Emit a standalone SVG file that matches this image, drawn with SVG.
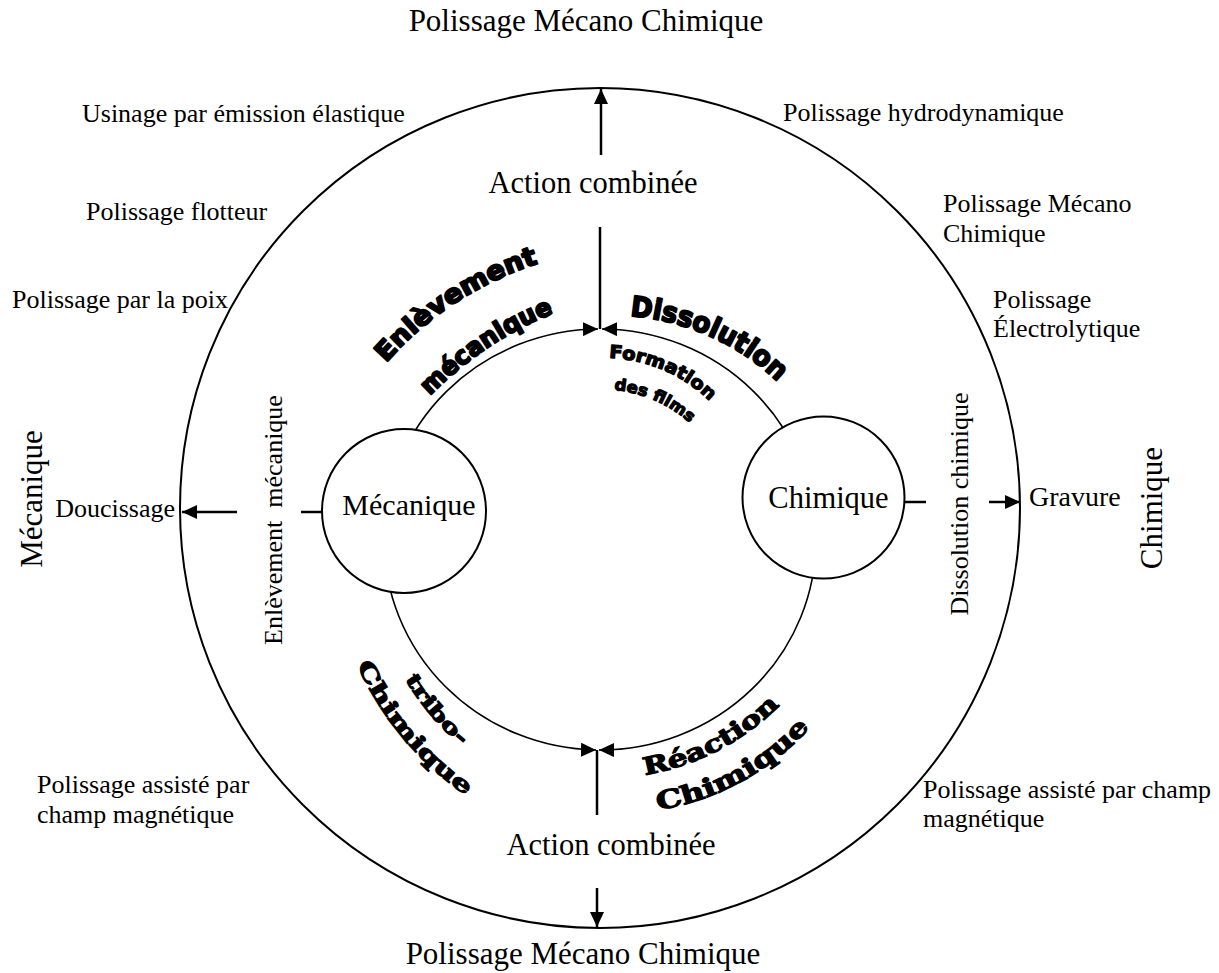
<svg xmlns="http://www.w3.org/2000/svg" width="1219" height="973" viewBox="0 0 1219 973">
<style>
.t{font-family:"Liberation Serif","Times New Roman",serif;fill:#000}
.s{font-size:26px}
.b{font-size:31px}
.hs{font-family:"DejaVu Sans","Liberation Sans",sans-serif;font-weight:bold;fill:#000;stroke:#000;stroke-width:2;stroke-linejoin:round}
.hr{font-family:"DejaVu Serif","Liberation Serif",serif;font-weight:bold;fill:#000;stroke:#000;stroke-width:1.2;stroke-linejoin:round}
.ln{stroke:#000;stroke-width:2.5;fill:none}
.arc{stroke:#000;stroke-width:1.6;fill:none}
.node{stroke:#000;stroke-width:2;fill:#fff}
</style>
<defs>
<marker id="ah" markerUnits="userSpaceOnUse" markerWidth="16" markerHeight="14" refX="15" refY="7" orient="auto" viewBox="0 0 16 14">
<path d="M0,0 L15,7 L0,14 Z" fill="#000"/>
</marker>
<path id="pEnl" d="M386,363 A340,340 0 0 1 543,262"/>
<path id="pMec" d="M430,396 A350,350 0 0 1 562,310"/>
<path id="pDis" d="M630,316 A240,240 0 0 1 780,384"/>
<path id="pFor" d="M609,358 A150,150 0 0 1 716,408"/>
<path id="pDes" d="M614,390 A130,130 0 0 1 697,430"/>
<path id="pTri" d="M405,679 A250,250 0 0 0 468,751"/>
<path id="pChL" d="M357,665 A320,320 0 0 0 471,799"/>
<path id="pRea" d="M645,775 A250,250 0 0 0 783,702"/>
<path id="pChR" d="M658,810 A260,260 0 0 0 815,722"/>
</defs>
<rect width="1219" height="973" fill="#fff"/>

<g id="outer-circle">
<circle cx="600" cy="508" r="420" fill="none" stroke="#000" stroke-width="2"/>
</g>

<g id="connectors">
<path class="arc" d="M384,539.5 A216,210.5 0 0 1 598,329" marker-end="url(#ah)"/>
<path class="arc" d="M816,539.5 A216,210.5 0 0 0 602,329" marker-end="url(#ah)"/>
<path class="arc" d="M384,539.5 A216,210.5 0 0 0 596,750" marker-end="url(#ah)"/>
<path class="arc" d="M816,539.5 A216,210.5 0 0 1 599,750" marker-end="url(#ah)"/>
<line class="ln" x1="600" y1="227" x2="600" y2="329"/>
<line class="ln" x1="601" y1="155" x2="601" y2="89" marker-end="url(#ah)"/>
<line class="ln" x1="597" y1="750" x2="597" y2="815"/>
<line class="ln" x1="597" y1="888" x2="597" y2="927" marker-end="url(#ah)"/>
<line class="ln" x1="301" y1="512" x2="322" y2="512"/>
<line class="ln" x1="237" y1="512" x2="182" y2="512" marker-end="url(#ah)"/>
<line class="ln" x1="905" y1="502" x2="926" y2="502"/>
<line class="ln" x1="989" y1="502" x2="1020" y2="502" marker-end="url(#ah)"/>
</g>

<g id="node-mecanique">
<circle class="node" cx="404" cy="511" r="82"/>
<text class="t" x="409" y="515" font-size="30" text-anchor="middle">Mécanique</text>
</g>
<g id="node-chimique">
<circle class="node" cx="823.5" cy="497.5" r="81"/>
<text class="t" x="828.5" y="508" font-size="30.5" text-anchor="middle">Chimique</text>
</g>

<g id="labels-main">
<text class="t b" x="586" y="31" text-anchor="middle">Polissage Mécano Chimique</text>
<text class="t" x="593" y="193" font-size="30.5" text-anchor="middle">Action combinée</text>
<text class="t" x="611" y="855" font-size="30.5" text-anchor="middle">Action combinée</text>
<text class="t b" x="583" y="964" text-anchor="middle">Polissage Mécano Chimique</text>
<text class="t b" x="42" y="499" text-anchor="middle" transform="rotate(-90 42 499)">Mécanique</text>
<text class="t b" x="1162" y="508" text-anchor="middle" transform="rotate(-90 1162 508)">Chimique</text>
</g>

<g id="labels-left">
<text class="t s" x="82" y="122">Usinage par émission élastique</text>
<text class="t s" x="86" y="220">Polissage flotteur</text>
<text class="t s" x="12" y="308">Polissage par la poix</text>
<text class="t s" x="175" y="517" text-anchor="end">Doucissage</text>
<text class="t s" x="37" y="793">Polissage assisté par</text>
<text class="t s" x="37" y="823">champ magnétique</text>
<text class="t s" x="282" y="520" text-anchor="middle" transform="rotate(-90 282 520)" style="white-space:pre" xml:space="preserve">Enlèvement  mécanique</text>
</g>

<g id="labels-right">
<text class="t s" x="783" y="121">Polissage hydrodynamique</text>
<text class="t s" x="943" y="212">Polissage Mécano</text>
<text class="t s" x="943" y="242">Chimique</text>
<text class="t s" x="993" y="308">Polissage</text>
<text class="t s" x="993" y="337">Électrolytique</text>
<text class="t" x="1029" y="506" font-size="28">Gravure</text>
<text class="t s" x="923" y="798">Polissage assisté par champ</text>
<text class="t s" x="923" y="827">magnétique</text>
<text class="t s" x="968" y="504" text-anchor="middle" transform="rotate(-90 968 504)">Dissolution chimique</text>
</g>

<g id="labels-curved">
<text class="hs" font-size="26"><textPath href="#pEnl" textLength="184" lengthAdjust="spacingAndGlyphs">Enlèvement</textPath></text>
<text class="hs" font-size="25"><textPath href="#pMec" textLength="150" lengthAdjust="spacingAndGlyphs">mécanique</textPath></text>
<text class="hs" font-size="28"><textPath href="#pDis" textLength="165" lengthAdjust="spacingAndGlyphs">Dissolution</textPath></text>
<text class="hs" font-size="18" style="stroke-width:1.3"><textPath href="#pFor" textLength="112" lengthAdjust="spacingAndGlyphs">Formation</textPath></text>
<text class="hs" font-size="16" style="stroke-width:1.2"><textPath href="#pDes" textLength="84" lengthAdjust="spacingAndGlyphs">des films</textPath></text>
<text class="hr" font-size="20"><textPath href="#pTri" textLength="88" lengthAdjust="spacingAndGlyphs">tribo-</textPath></text>
<text class="hr" font-size="22"><textPath href="#pChL" textLength="172" lengthAdjust="spacingAndGlyphs">Chimique</textPath></text>
<text class="hr" font-size="24"><textPath href="#pRea" textLength="154" lengthAdjust="spacingAndGlyphs">Réaction</textPath></text>
<text class="hr" font-size="25"><textPath href="#pChR" textLength="176" lengthAdjust="spacingAndGlyphs">Chimique</textPath></text>
</g>
</svg>
